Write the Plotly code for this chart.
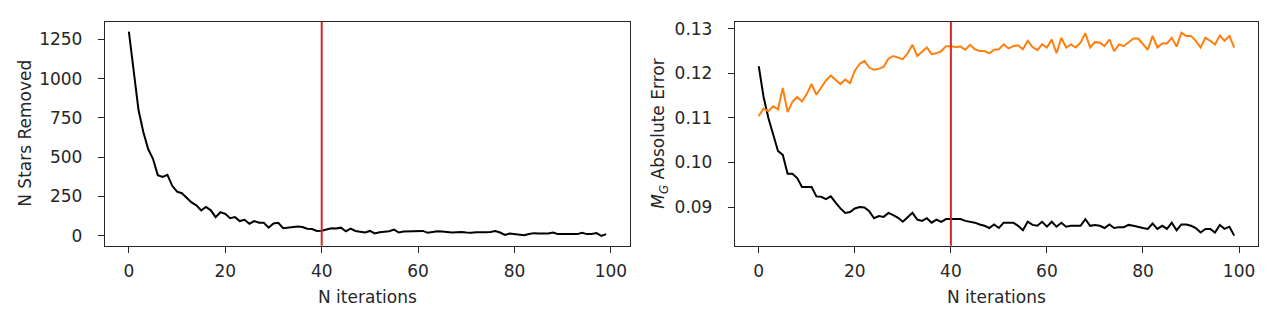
import plotly.graph_objects as go

iterations = list(range(100))

stars_removed = [
    1298, 1030, 800, 660, 552, 490, 386, 375, 388, 318,
    281, 271, 240, 212, 194, 162, 183, 162, 119, 150,
    140, 112, 119, 94, 102, 77, 94, 83, 83, 52,
    79, 83, 48, 52, 58, 60, 56, 45, 43, 31,
    33, 42, 48, 46, 52, 29, 46, 31, 27, 21,
    31, 15, 23, 27, 29, 40, 21, 27, 29, 27,
    31, 31, 19, 25, 29, 27, 23, 21, 23, 25,
    21, 19, 23, 21, 23, 25, 31, 21, 6, 15,
    11, 6, 4, 11, 17, 15, 13, 15, 21, 11,
    11, 11, 15, 11, 19, 11, 11, 17, 0, 11,
]

error_black = [
    0.1216, 0.1147, 0.1100, 0.1061, 0.1026, 0.1017, 0.0975, 0.0975, 0.0965, 0.0945,
    0.0945, 0.0945, 0.0924, 0.0923, 0.0918, 0.0924, 0.0910, 0.0897, 0.0887, 0.0889,
    0.0897, 0.0900, 0.0899, 0.0891, 0.0875, 0.0880, 0.0878, 0.0887, 0.0882, 0.0876,
    0.0867, 0.0878, 0.0887, 0.0872, 0.0869, 0.0875, 0.0865, 0.0872, 0.0867, 0.0873,
    0.0873, 0.0873, 0.0873, 0.0869, 0.0867, 0.0865, 0.0861, 0.0858, 0.0853, 0.0861,
    0.0853, 0.0865, 0.0865, 0.0865, 0.0858, 0.0848, 0.0867, 0.0860, 0.0858, 0.0867,
    0.0856, 0.0867, 0.0856, 0.0865, 0.0856, 0.0858, 0.0858, 0.0858, 0.0873, 0.0858,
    0.0860, 0.0858, 0.0853, 0.0861, 0.0853, 0.0855, 0.0855, 0.0860, 0.0858, 0.0855,
    0.0853, 0.0851, 0.0863, 0.0851, 0.0858, 0.0851, 0.0865, 0.0848, 0.0861, 0.0861,
    0.0858, 0.0853, 0.0843, 0.0851, 0.0851, 0.0843, 0.0860, 0.0851, 0.0856, 0.0836,
]

error_orange = [
    0.1104, 0.1121, 0.1115, 0.1126, 0.1119, 0.1167, 0.1113, 0.1136, 0.1147, 0.1137,
    0.1154, 0.1176, 0.1152, 0.1169, 0.1184, 0.1195, 0.1185, 0.1176, 0.1186, 0.1178,
    0.1206, 0.1221, 0.1228, 0.1213, 0.1208, 0.1210, 0.1215, 0.1233, 0.1239, 0.1236,
    0.1232, 0.1245, 0.1264, 0.1239, 0.1248, 0.1258, 0.1243, 0.1245, 0.1250, 0.1261,
    0.1261, 0.1259, 0.1260, 0.1253, 0.1264, 0.1254, 0.1250, 0.1250, 0.1245, 0.1253,
    0.1254, 0.1265, 0.1256, 0.1261, 0.1263, 0.1254, 0.1273, 0.1259, 0.1252, 0.1265,
    0.1258, 0.1276, 0.1245, 0.1280, 0.1258, 0.1265, 0.1258, 0.1269, 0.1290, 0.1258,
    0.1270, 0.1269, 0.1261, 0.1276, 0.1250, 0.1265, 0.1261, 0.1269, 0.1278, 0.1278,
    0.1265, 0.1253, 0.1284, 0.1258, 0.1267, 0.1267, 0.1280, 0.1260, 0.1291, 0.1284,
    0.1284, 0.1273, 0.1258, 0.1280, 0.1273, 0.1265, 0.1285, 0.1273, 0.1284, 0.1258,
]

cut_iteration = 40
x_ticks = [0, 20, 40, 60, 80, 100]
left_y_ticks = [0, 250, 500, 750, 1000, 1250]
right_y_ticks = [0.09, 0.10, 0.11, 0.12, 0.13]

W, H = 1280, 323
FONT = "DejaVu Sans"
FS = 17
TXT = "#262626"

fig = go.Figure()
fig.add_trace(go.Scatter(x=iterations, y=stars_removed, mode="lines",
                         line=dict(color="black", width=2), xaxis="x", yaxis="y",
                         showlegend=False))
fig.add_trace(go.Scatter(x=iterations, y=error_black, mode="lines",
                         line=dict(color="black", width=2), xaxis="x2", yaxis="y2",
                         showlegend=False))
fig.add_trace(go.Scatter(x=iterations, y=error_orange, mode="lines",
                         line=dict(color="#ff7f0e", width=2), xaxis="x2", yaxis="y2",
                         showlegend=False))

ydom = [1 - 245 / H, 1 - 19 / H]
common_axis = dict(showline=True, linecolor="#262626", linewidth=1.3, mirror=True,
                   showgrid=False, zeroline=False, ticks="outside", ticklen=6,
                   tickwidth=1.3, tickcolor="#262626",
                   tickfont=dict(family=FONT, size=FS, color=TXT))

fig.update_layout(
    width=W, height=H,
    margin=dict(l=0, r=0, t=0, b=0),
    paper_bgcolor="white", plot_bgcolor="white",
    font=dict(family=FONT, size=FS, color=TXT),
    xaxis=dict(domain=[105 / W, 630 / W], range=[-4.95, 103.95], tickvals=x_ticks,
               anchor="y", ticklabelstandoff=4, **common_axis),
    yaxis=dict(domain=ydom, range=[-63, 1361], tickvals=left_y_ticks,
               anchor="x", ticklabelstandoff=12, **common_axis),
    xaxis2=dict(domain=[735 / W, 1258 / W], range=[-4.95, 103.95], tickvals=x_ticks,
                anchor="y2", ticklabelstandoff=4, **common_axis),
    yaxis2=dict(domain=ydom, range=[0.08133, 0.13156], tickvals=right_y_ticks,
                tickformat=".2f", anchor="x2", ticklabelstandoff=12, **common_axis),
)

for xr in ["x", "x2"]:
    yr = "y" if xr == "x" else "y2"
    fig.add_shape(type="line", xref=xr, yref=f"{yr} domain",
                  x0=cut_iteration, x1=cut_iteration, y0=0, y1=1,
                  line=dict(color="#d62728", width=2))

annotations = [
    dict(text="N iterations", x=(105 + 630) / 2 / W, y=1 - 297 / H, xref="paper",
         yref="paper", showarrow=False, xanchor="center", yanchor="middle"),
    dict(text="N iterations", x=(735 + 1258) / 2 / W, y=1 - 297 / H, xref="paper",
         yref="paper", showarrow=False, xanchor="center", yanchor="middle"),
    dict(text="N Stars Removed", x=25 / W, y=1 - 132 / H, xref="paper", yref="paper",
         showarrow=False, textangle=-90, xanchor="center", yanchor="middle"),
    dict(text="<i>M</i><sub><i>G</i></sub> Absolute Error", x=660 / W, y=1 - 132 / H,
         xref="paper", yref="paper", showarrow=False, textangle=-90,
         xanchor="center", yanchor="middle"),
]
fig.update_layout(annotations=annotations)

fig.write_html("out.html")
